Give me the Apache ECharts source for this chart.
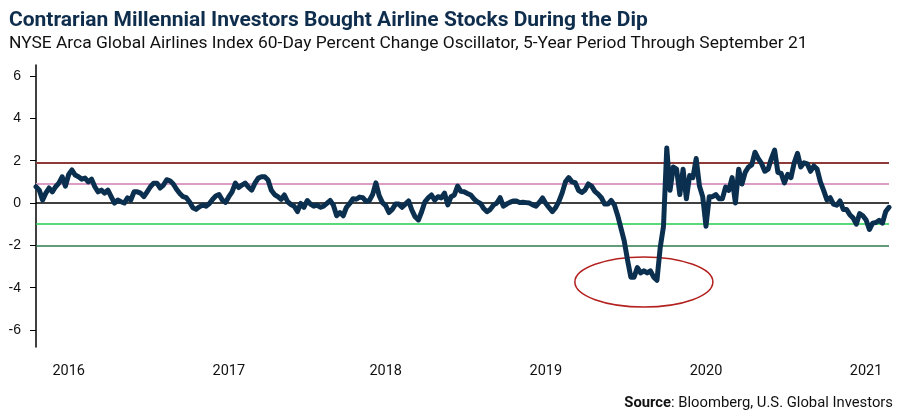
<!DOCTYPE html>
<html><head><meta charset="utf-8">
<script src="https://cdn.jsdelivr.net/npm/echarts@6/dist/echarts.min.js"></script>
<style>html,body{margin:0;padding:0;background:#fff}#c{width:900px;height:416px}</style>
</head><body><div id="c"></div>
<script>
// Weekly 60-day percent change oscillator values (Sep 2016 - Sep 2021)
const oscillator = [
  0.77,0.61,0.14,0.47,0.71,0.53,0.77,0.94,1.24,0.8,1.35,1.56,1.32,1.24,1.13,1.18,1.0,1.13,0.77,0.53,
  0.61,0.47,0.61,0.3,0.0,0.14,0.06,0.0,0.24,0.14,0.53,0.53,0.47,0.3,0.53,0.77,0.94,0.94,
  0.71,0.85,1.1,1.05,0.9,0.65,0.45,0.3,0.25,0.05,-0.22,-0.3,-0.18,-0.1,-0.15,-0.03,0.17,0.33,0.4,0.14,
  0.03,0.3,0.53,0.94,0.73,0.85,0.94,0.75,0.61,0.94,1.18,1.24,1.24,1.09,0.6,0.4,0.3,0.17,0.38,
  0.06,-0.07,-0.15,-0.4,-0.02,-0.2,0.12,-0.05,-0.15,-0.1,-0.2,-0.15,-0.02,0.12,-0.1,-0.6,-0.45,-0.6,-0.2,-0.02,
  0.2,0.18,0.28,0.25,0.08,0.12,0.4,0.95,0.35,0.02,-0.12,-0.45,-0.3,-0.05,-0.05,-0.2,-0.05,0.1,
  -0.33,-0.65,-0.8,-0.41,0.06,0.24,0.38,0.14,0.3,0.24,0.47,-0.09,0.3,0.38,0.8,0.55,0.53,0.45,0.38,0.2,
  0.06,-0.02,-0.26,-0.41,-0.3,-0.09,0.0,0.25,-0.15,-0.05,0.03,0.1,0.1,0.02,0.04,0.02,0.0,-0.09,
  -0.15,0.03,0.24,-0.02,-0.22,-0.4,-0.22,0.08,0.48,1.0,1.2,1.0,0.96,0.6,0.5,0.62,0.9,0.8,0.55,0.42,
  0.25,-0.05,-0.05,0.12,-0.1,-0.6,-1.2,-1.8,-2.7,-3.5,-3.5,-3.05,-3.3,-3.2,-3.3,-3.2,-3.5,-3.65,-2.1,-1.1,
  2.6,0.6,1.7,1.6,0.4,1.6,0.2,1.3,1.2,2.1,0.8,0.3,-1.1,0.3,0.3,0.4,0.2,0.2,0.75,0.6,
  1.2,0.0,1.6,0.9,1.45,1.7,1.8,2.4,2.1,1.87,1.5,1.6,2.1,2.5,1.45,1.4,0.95,
  1.35,1.2,1.9,2.35,1.7,1.9,1.85,1.5,1.75,1.6,1.0,0.6,0.15,0.25,-0.05,-0.1,0.1,-0.3,-0.3,-0.55,
  -0.7,-1.0,-0.5,-0.6,-0.8,-1.25,-0.95,-0.92,-0.82,-0.95,-0.4,-0.2
];
const startDate = '2016-09-23';
const yearLabels = ['2016','2017','2018','2019','2020','2021'];
const yearLabelWeeks = [10, 59, 107, 156, 205, 254];
const yTickValues = [-6,-4,-2,0,2,4,6];
const refLevels = [1.9, 0.9, 0, -1, -2];
const refColors = ['#8E3A36', '#DC9CC6', '#000000', '#22CC4E', '#2E7A4E'];
const refWidths = [2, 2, 1.5, 1.5, 1.5];
const dipWeek = 186, dipValue = -3.73;

const weeks = oscillator.map((v, i) => {
  const d = new Date(startDate + 'T00:00:00Z');
  d.setUTCDate(d.getUTCDate() + 7 * i);
  return d.toISOString().slice(0, 10);
});
const labelMap = {};
yearLabelWeeks.forEach((w, i) => labelMap[w] = yearLabels[i]);

const FONT = "Roboto, 'Liberation Sans', sans-serif";
const chart = echarts.init(document.getElementById('c'), null, {renderer: 'canvas'});
const option = {
  animation: false,
  backgroundColor: '#fff',
  title: {
    text: 'Contrarian Millennial Investors Bought Airline Stocks During the Dip',
    subtext: 'NYSE Arca Global Airlines Index 60-Day Percent Change Oscillator, 5-Year Period Through September 21',
    left: 4, top: 5, itemGap: 4,
    textStyle: {fontFamily: FONT, fontWeight: 'bold', fontSize: 21, color: '#0F2D4C'},
    subtextStyle: {fontFamily: FONT, fontSize: 17.4, color: '#111'}
  },
  graphic: [{
    type: 'text', right: 7, top: 396,
    style: {
      rich: {b: {fontWeight: 'bold', fontFamily: FONT, fontSize: 14.8, fill: '#111'},
             n: {fontFamily: FONT, fontSize: 14.8, fill: '#111'}},
      text: '{b|Source}{n|: Bloomberg, U.S. Global Investors}'
    }
  }],
  grid: {left: 36, top: 65, width: 853, height: 282, containLabel: false},
  xAxis: {
    type: 'category', data: weeks, boundaryGap: false,
    axisLine: {show: false}, axisTick: {show: false}, splitLine: {show: false},
    axisLabel: {
      interval: (i) => labelMap[i] !== undefined,
      formatter: (val, i) => labelMap[i] || '',
      margin: 17, fontFamily: FONT, fontSize: 14.5, color: '#111'
    }
  },
  yAxis: {
    type: 'value', min: -6.8, max: 6.52,
    axisLine: {show: true, lineStyle: {color: '#000', width: 1.5}},
    axisTick: {show: true, customValues: yTickValues, length: 6, lineStyle: {color: '#000', width: 1}},
    axisLabel: {customValues: yTickValues, margin: 15, fontFamily: "'Liberation Sans', Arial, sans-serif", fontSize: 14, color: '#111'},
    splitLine: {show: false}
  },
  series: [
    {
      type: 'line', data: [], z: 1, silent: true,
      markLine: {
        silent: true, symbol: 'none', label: {show: false},
        data: refLevels.map((v, i) => ({yAxis: v, lineStyle: {color: refColors[i], width: refWidths[i], type: 'solid'}}))
      }
    },
    {
      type: 'line', data: oscillator, z: 5, showSymbol: false, symbol: 'none',
      lineStyle: {color: '#0B2F4E', width: 5, join: 'round', cap: 'round'}
    }
  ]
};
chart.setOption(option);
const c = chart.convertToPixel({xAxisIndex: 0, yAxisIndex: 0}, [dipWeek, dipValue]);
chart.setOption({
  graphic: [option.graphic[0], {
    type: 'ellipse', z: 2,
    shape: {cx: c[0], cy: c[1], rx: 69, ry: 25},
    style: {fill: 'none', stroke: '#B3201E', lineWidth: 1.5}
  }]
});
</script>
</body></html>
